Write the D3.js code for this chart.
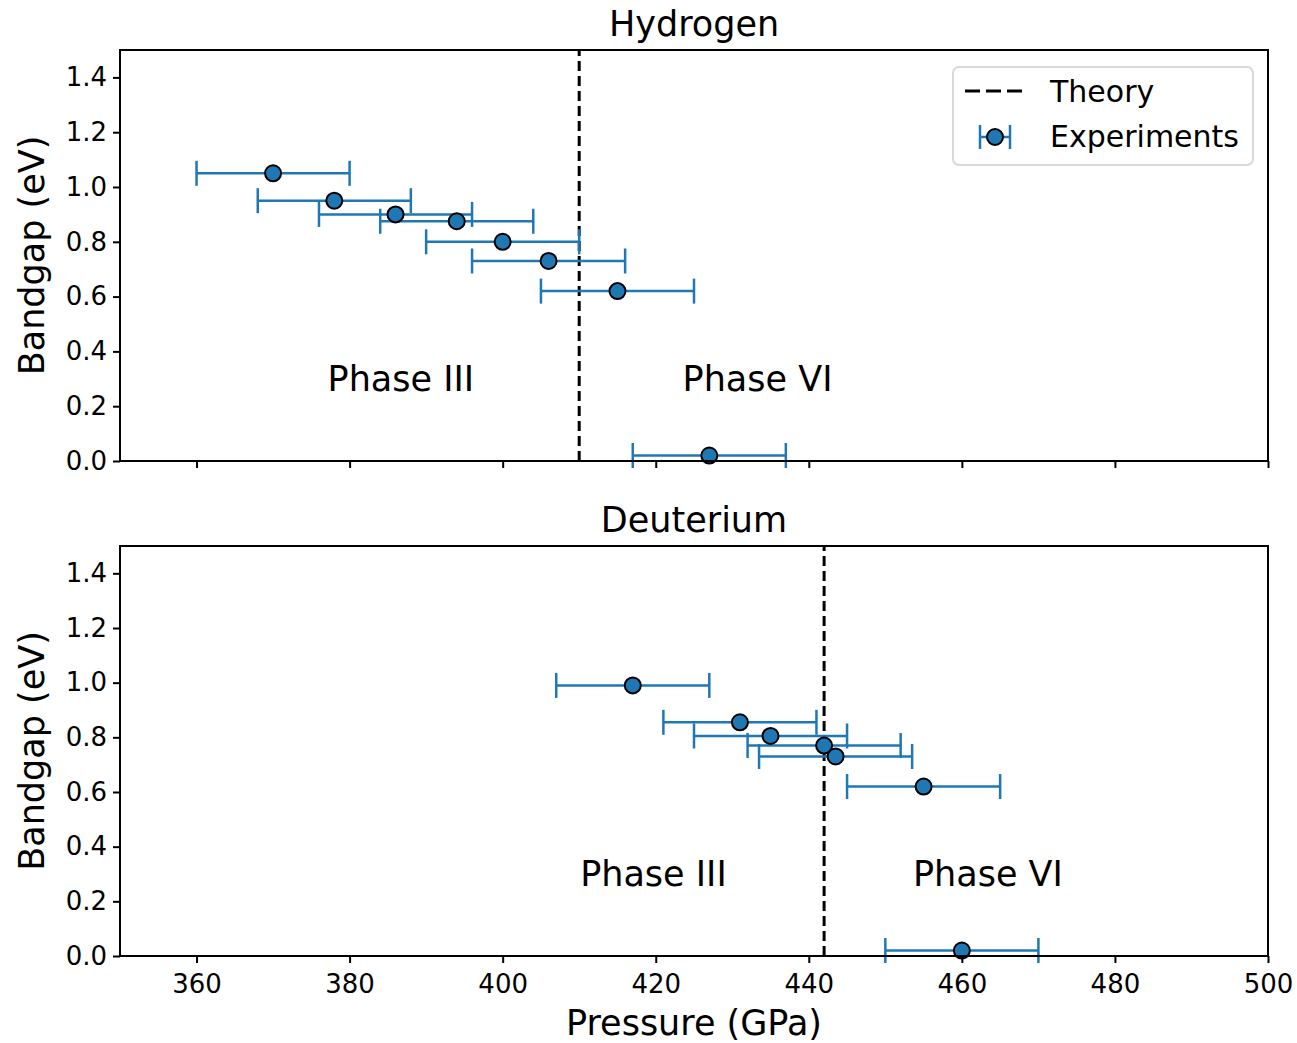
<!DOCTYPE html>
<html><head><meta charset="utf-8">
<script src="https://cdn.jsdelivr.net/npm/d3@7"></script>
<style>body{margin:0;background:#fff}svg text{font-family:"DejaVu Sans",sans-serif}</style>
</head><body><svg id="c" width="1297" height="1043"></svg>
<script>
const xTicks = [360, 380, 400, 420, 440, 460, 480, 500];
const yTicks = [0.0, 0.2, 0.4, 0.6, 0.8, 1.0, 1.2, 1.4];
const hPressure = [370, 378, 386, 394, 400, 406, 415, 427];
const hGap = [1.05, 0.95, 0.90, 0.875, 0.80, 0.73, 0.62, 0.02];
const hErr = [10, 10, 10, 10, 10, 10, 10, 10];
const hTheory = 410;
const dPressure = [417, 431, 435, 442, 443.5, 455, 460];
const dGap = [0.99, 0.855, 0.805, 0.77, 0.73, 0.62, 0.02];
const dErr = [10, 10, 10, 10, 10, 10, 10];
const dTheory = 442;
const phaseLabels = ["Phase III", "Phase VI"];
const hPhaseX = [386.7, 433.3];
const dPhaseX = [419.7, 463.4];
const phaseY = 0.30;

const blue = "#1f77b4";
const svg = d3.select("#c");
const L = 120, R = 1268;
const x = d3.scaleLinear().domain([350, 500]).range([L, R]);

function panel(top, bottom, title, P, G, E, theory, phX, showXLabels, legend) {
  const y = d3.scaleLinear().domain([0, 1.5]).range([bottom, top]);
  const g = svg.append("g");
  g.append("line").attr("x1", x(theory)).attr("x2", x(theory))
    .attr("y1", y(0)).attr("y2", y(1.5))
    .attr("stroke", "#000").attr("stroke-width", 3).attr("stroke-dasharray", "10,5");
  P.forEach((p, i) => {
    const yy = y(G[i]);
    g.append("line").attr("x1", x(p - E[i])).attr("x2", x(p + E[i]))
      .attr("y1", yy).attr("y2", yy).attr("stroke", blue).attr("stroke-width", 2.5);
    [p - E[i], p + E[i]].forEach(v => {
      g.append("line").attr("x1", x(v)).attr("x2", x(v))
        .attr("y1", yy - 12.5).attr("y2", yy + 12.5).attr("stroke", blue).attr("stroke-width", 2.5);
    });
  });
  P.forEach((p, i) => {
    g.append("circle").attr("cx", x(p)).attr("cy", y(G[i])).attr("r", 8)
      .attr("fill", blue).attr("stroke", "#000").attr("stroke-width", 2);
  });
  phaseLabels.forEach((t, i) => {
    g.append("text").attr("x", x(phX[i])).attr("y", y(phaseY) + 12)
      .attr("text-anchor", "middle").attr("font-size", 35).attr("fill", "#000").text(t);
  });
  const ya = d3.axisLeft(y).tickValues(yTicks).tickFormat(d3.format(".1f")).tickSize(7).tickPadding(6);
  const yg = g.append("g").attr("transform", `translate(${L},0)`).call(ya);
  yg.select(".domain").remove();
  yg.selectAll("line").attr("stroke-width", 2);
  yg.selectAll("text").attr("font-size", 26).attr("font-family", "DejaVu Sans");
  const xa = d3.axisBottom(x).tickValues(xTicks).tickSize(7).tickPadding(12)
    .tickFormat(showXLabels ? d3.format("d") : () => "");
  const xg = g.append("g").attr("transform", `translate(0,${bottom})`).call(xa);
  xg.select(".domain").remove();
  xg.selectAll("line").attr("stroke-width", 2);
  xg.selectAll("text").attr("font-size", 26).attr("font-family", "DejaVu Sans");
  g.append("rect").attr("x", L).attr("y", top).attr("width", R - L).attr("height", bottom - top)
    .attr("fill", "none").attr("stroke", "#000").attr("stroke-width", 2);
  g.append("text").attr("x", (L + R) / 2).attr("y", top - 14).attr("text-anchor", "middle")
    .attr("font-size", 35).text(title);
  g.append("text").attr("transform", `translate(44,${(top + bottom) / 2}) rotate(-90)`)
    .attr("text-anchor", "middle").attr("font-size", 35).text("Bandgap (eV)");
  if (legend) {
    const lx = 953, ly = 67;
    g.append("rect").attr("x", lx).attr("y", ly).attr("width", 300).attr("height", 98)
      .attr("rx", 6).attr("fill", "#fff").attr("stroke", "#d8d8d8").attr("stroke-width", 2);
    g.append("line").attr("x1", lx + 12).attr("x2", lx + 72).attr("y1", ly + 24).attr("y2", ly + 24)
      .attr("stroke", "#000").attr("stroke-width", 3).attr("stroke-dasharray", "15,6");
    g.append("text").attr("x", lx + 97).attr("y", ly + 35).attr("font-size", 30).text("Theory");
    const ey = ly + 70, ex = lx + 42;
    g.append("line").attr("x1", ex - 15).attr("x2", ex + 15).attr("y1", ey).attr("y2", ey)
      .attr("stroke", blue).attr("stroke-width", 2.5);
    [ex - 15, ex + 15].forEach(v => g.append("line").attr("x1", v).attr("x2", v)
      .attr("y1", ey - 12).attr("y2", ey + 12).attr("stroke", blue).attr("stroke-width", 2.5));
    g.append("circle").attr("cx", ex).attr("cy", ey).attr("r", 8).attr("fill", blue)
      .attr("stroke", "#000").attr("stroke-width", 2);
    g.append("text").attr("x", lx + 97).attr("y", ey + 10).attr("font-size", 30).text("Experiments");
  }
}
panel(50, 461, "Hydrogen", hPressure, hGap, hErr, hTheory, hPhaseX, false, true);
panel(546, 956, "Deuterium", dPressure, dGap, dErr, dTheory, dPhaseX, true, false);
svg.append("text").attr("x", (L + R) / 2).attr("y", 1035).attr("text-anchor", "middle")
  .attr("font-size", 35).text("Pressure (GPa)");
</script></body></html>
